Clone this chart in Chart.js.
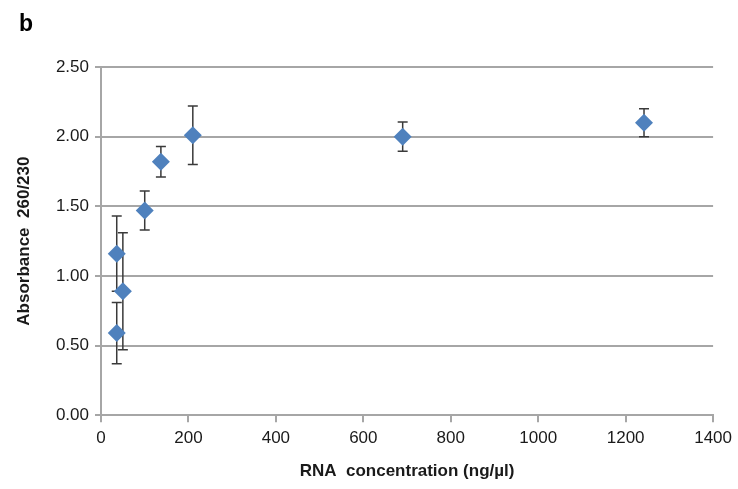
<!DOCTYPE html>
<html><head><meta charset="utf-8">
<script src="https://cdn.jsdelivr.net/npm/chart.js@4.4.0/dist/chart.umd.min.js"></script>
<style>html,body{margin:0;padding:0;background:#fff}#wrap{width:738px;height:489px}</style>
</head><body><div id="wrap"><canvas id="c" width="738" height="489"></canvas></div>
<script>
const concentration = [36, 50, 36, 100, 137, 210, 690, 1242];
const absorbance = [1.16, 0.89, 0.59, 1.47, 1.82, 2.01, 2.00, 2.10];
const errorSize = [0.27, 0.42, 0.22, 0.14, 0.11, 0.21, 0.105, 0.10];
const xTicks = [0, 200, 400, 600, 800, 1000, 1200, 1400];
const yTicks = [0, 0.5, 1.0, 1.5, 2.0, 2.5];

const gridColor = '#a6a6a6';

const errorBars = {
  id: 'errorBars',
  beforeDatasetsDraw(chart) {
    const {ctx, scales: {x, y}} = chart;
    ctx.save();
    ctx.strokeStyle = '#3a3a3a';
    ctx.lineWidth = 1.5;
    concentration.forEach((cx, i) => {
      const px = x.getPixelForValue(cx);
      const top = y.getPixelForValue(absorbance[i] + errorSize[i]);
      const bot = y.getPixelForValue(absorbance[i] - errorSize[i]);
      ctx.beginPath();
      ctx.moveTo(px, top); ctx.lineTo(px, bot);
      ctx.moveTo(px - 5, top); ctx.lineTo(px + 5, top);
      ctx.moveTo(px - 5, bot); ctx.lineTo(px + 5, bot);
      ctx.stroke();
    });
    ctx.restore();
  }
};
const panelLabel = {
  id: 'panelLabel',
  afterDraw(chart) {
    const ctx = chart.ctx;
    ctx.save();
    ctx.fillStyle = '#000';
    ctx.font = 'bold 23px "Liberation Sans", Arial, sans-serif';
    ctx.textBaseline = 'alphabetic';
    ctx.fillText('b', 19, 31);
    ctx.restore();
  }
};

new Chart(document.getElementById('c'), {
  type: 'scatter',
  data: {
    datasets: [{
      data: concentration.map((v, i) => ({x: v, y: absorbance[i]})),
      pointStyle: 'rectRot',
      pointRadius: 9,
      pointHoverRadius: 9,
      backgroundColor: '#4f81bd',
      borderColor: '#4f81bd',
      borderWidth: 0
    }]
  },
  options: {
    responsive: false,
    animation: false,
    events: [],
    layout: {padding: {top: 67, left: 10, right: 24, bottom: 3}},
    plugins: {legend: {display: false}, tooltip: {enabled: false}},
    scales: {
      x: {
        type: 'linear', min: 0, max: 1400,
        afterBuildTicks: s => { s.ticks = xTicks.map(v => ({value: v})); },
        grid: {drawOnChartArea: false, drawTicks: true, tickLength: 7, color: gridColor, lineWidth: 2},
        border: {color: gridColor, width: 2},
        ticks: {color: '#1a1a1a', font: {family: '"Liberation Sans", Arial, sans-serif', size: 17}, padding: 6, maxRotation: 0, callback: v => String(v)},
        title: {display: true, text: 'RNA  concentration (ng/µl)', color: '#1a1a1a', font: {family: '"Liberation Sans", Arial, sans-serif', size: 17, weight: 'bold'}, padding: {top: 7}}
      },
      y: {
        type: 'linear', min: 0, max: 2.5,
        afterBuildTicks: s => { s.ticks = yTicks.map(v => ({value: v})); },
        afterFit: s => { s.width = 91; },
        grid: {color: gridColor, lineWidth: 2, tickLength: 6},
        border: {color: gridColor, width: 2},
        ticks: {color: '#1a1a1a', font: {family: '"Liberation Sans", Arial, sans-serif', size: 17}, padding: 6, callback: v => v.toFixed(2)},
        title: {display: true, text: 'Absorbance  260/230', color: '#1a1a1a', font: {family: '"Liberation Sans", Arial, sans-serif', size: 17, weight: 'bold'}, padding: {bottom: 6}}
      }
    }
  },
  plugins: [errorBars, panelLabel]
});
</script></body></html>
